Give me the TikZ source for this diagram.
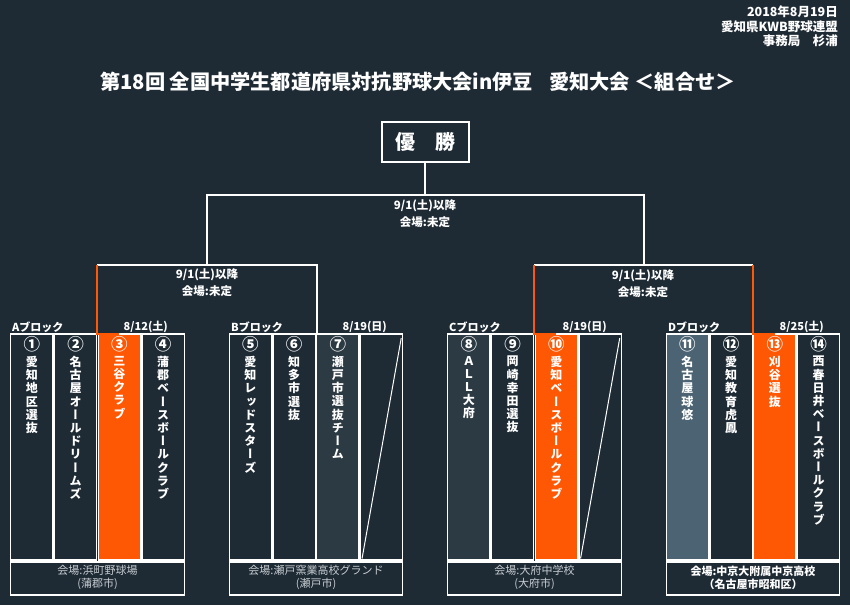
\documentclass[tikz,border=0pt]{standalone}
\usepackage{fontspec}
\setmainfont{Noto Sans CJK JP}
\newfontfamily\jpv[RawFeature=+vert]{Noto Sans CJK JP}
\usetikzlibrary{calc}
\definecolor{bg}{RGB}{30,43,53}
\definecolor{org}{RGB}{255,88,5}
\definecolor{lite}{RGB}{44,58,67}
\definecolor{steel}{RGB}{75,99,114}
\definecolor{vgray}{RGB}{200,205,210}
\makeatletter
\newcommand\vtext[1]{\vt@first#1\relax}
\def\vt@first#1{#1\vt@rest}
\def\vt@rest#1{\ifx#1\relax\else\\#1\expandafter\vt@rest\fi}
\makeatother
\begin{document}
\begin{tikzpicture}[x=1pt,y=-1pt,
  wline/.style={draw=white,line width=1.5pt},
  oline/.style={draw=org,line width=2.6pt},
  colbox/.style={draw=white,line width=1.3pt,minimum width=42.2pt,minimum height=226pt,anchor=north west,inner sep=0pt,outer sep=0pt},
  venuebox/.style={draw=white,line width=1.3pt,minimum width=173.4pt,minimum height=33pt,anchor=north west,inner sep=0pt,outer sep=0pt},
  hd/.style={text=white,font=\bfseries\fontsize{12.5}{14.5}\selectfont,align=right,anchor=north east,inner sep=0pt},
  ttl/.style={text=white,font=\bfseries\fontsize{20.2}{24}\selectfont,inner sep=0pt},
  winbox/.style={draw=white,line width=2pt,minimum width=87pt,minimum height=40pt,text=white,font=\bfseries\fontsize{20}{24}\selectfont,inner sep=0pt},
  bt/.style={text=white,font=\bfseries\fontsize{11.5}{17}\selectfont,align=center,inner sep=0pt},
  lbl/.style={text=white,font=\bfseries\fontsize{11}{13}\selectfont,inner sep=0pt},
  num/.style={text=white,font=\bfseries\fontsize{16.5}{16.5}\selectfont,inner sep=0pt},
  vt/.style={text=white,font=\jpv\bfseries\fontsize{12}{13.2}\selectfont,align=center,anchor=north,inner sep=0pt},
  vtx/.style={text=vgray,font=\fontsize{11}{13}\selectfont,align=center,inner sep=0pt},
  vtxb/.style={text=white,font=\bfseries\fontsize{11}{13}\selectfont,align=center,inner sep=0pt},
  diag/.style={draw=white,line width=1pt}]
\fill[bg] (0,0) rectangle (850,605);
\useasboundingbox (0,0) rectangle (850,605);

% header and title
\node[hd] (hdr) at (838,6) {2018年8月19日\\愛知県KWB野球連盟\\事務局　杉浦};
\node[ttl] (title) at (418,82) {第18回 全国中学生都道府県対抗野球大会in伊豆\hspace{0.8em}愛知大会 ＜組合せ＞};

% champion box
\node[winbox] (win) at (425,142) {優　勝};

% bracket coordinates
\coordinate (fL) at (207,195);
\coordinate (fR) at (644,195);
\coordinate (sL) at (207,265);
\coordinate (sR) at (644,265);
\coordinate (aL) at (97,265);
\coordinate (aR) at (317,265);
\coordinate (cL) at (534,265);
\coordinate (cR) at (753,265);

% columns block A
\node[colbox,fill=bg]  (A1) at (10.8,334) {};
\node[colbox,fill=bg]  (A2) at (54.55,334) {};
\node[colbox,fill=org] (A3) at (98.3,334) {};
\node[colbox,fill=bg]  (A4) at (142.05,334) {};
% block B
\node[colbox,fill=bg]   (B1) at (229.3,334) {};
\node[colbox,fill=bg]   (B2) at (273.05,334) {};
\node[colbox,fill=lite] (B3) at (316.8,334) {};
\node[colbox,fill=bg]   (B4) at (360.55,334) {};
% block C
\node[colbox,fill=lite] (C1) at (447.8,334) {};
\node[colbox,fill=bg]   (C2) at (491.55,334) {};
\node[colbox,fill=org]  (C3) at (535.3,334) {};
\node[colbox,fill=bg]   (C4) at (579.05,334) {};
% block D
\node[colbox,fill=steel] (D1) at (666.3,334) {};
\node[colbox,fill=bg]    (D2) at (710.05,334) {};
\node[colbox,fill=org]   (D3) at (753.8,334) {};
\node[colbox,fill=bg]    (D4) at (797.55,334) {};

% venue boxes
\node[venuebox] (Av) at (10.8,562) {};
\node[venuebox] (Bv) at (229.3,562) {};
\node[venuebox] (Cv) at (447.8,562) {};
\node[venuebox] (Dv) at (666.3,562) {};

% bye diagonals
\draw[diag] ([shift={(1.5pt,1.5pt)}]B4.south west) -- ([shift={(-1.5pt,-4pt)}]B4.north east);
\draw[diag] ([shift={(1.5pt,1.5pt)}]C4.south west) -- ([shift={(-1.5pt,-4pt)}]C4.north east);

% white bracket lines
\draw[wline] (win.south) -- (win.south |- fL);
\draw[wline] (sL) -- (fL) -- (fR) -- (sR);
\draw[wline] (aL) -- (aR) -- (aR |- B3.north);
\draw[wline] (cL) -- (cR);
% orange winning paths
\draw[oline] (aL) -- (aL |- A3.north) -- (A3.north);
\draw[oline] (cL) -- (cL |- C3.north) -- (C3.north);
\draw[oline] (cR) -- (cR |- D3.north) -- (D3.north);

% bracket texts
\node[bt] (t0) at (425,213.5) {9/1(土)以降\\会場:未定};
\node[bt] (t1) at (207,282.5) {9/1(土)以降\\会場:未定};
\node[bt] (t2) at (643,283.5) {9/1(土)以降\\会場:未定};

% block labels
\node[lbl,anchor=west] (Al) at (12,327) {Aブロック};
\node[lbl,anchor=east] (Ad) at (168,327) {8/12(土)};
\node[lbl,anchor=west] (Bl) at (231,327) {Bブロック};
\node[lbl,anchor=east] (Bd) at (387,327) {8/19(日)};
\node[lbl,anchor=west] (Cl) at (449,327) {Cブロック};
\node[lbl,anchor=east] (Cd) at (607,327) {8/19(日)};
\node[lbl,anchor=west] (Dl) at (668,327) {Dブロック};
\node[lbl,anchor=east] (Dd) at (824,327) {8/25(土)};

% numbers
\node[num] (nA1) at ([yshift=-10pt]A1.north) {①};
\node[num] (nA2) at ([yshift=-10pt]A2.north) {②};
\node[num] (nA3) at ([yshift=-10pt]A3.north) {③};
\node[num] (nA4) at ([yshift=-10pt]A4.north) {④};
\node[num] (nB1) at ([yshift=-10pt]B1.north) {⑤};
\node[num] (nB2) at ([yshift=-10pt]B2.north) {⑥};
\node[num] (nB3) at ([yshift=-10pt]B3.north) {⑦};
\node[num] (nC1) at ([yshift=-10pt]C1.north) {⑧};
\node[num] (nC2) at ([yshift=-10pt]C2.north) {⑨};
\node[num] (nC3) at ([yshift=-10pt]C3.north) {⑩};
\node[num] (nD1) at ([yshift=-10pt]D1.north) {⑪};
\node[num] (nD2) at ([yshift=-10pt]D2.north) {⑫};
\node[num] (nD3) at ([yshift=-10pt]D3.north) {⑬};
\node[num] (nD4) at ([yshift=-10pt]D4.north) {⑭};

% team names (vertical)
\node[vt] (tA1) at ([yshift=-22pt]A1.north) {\vtext{愛知地区選抜}};
\node[vt] (tA2) at ([yshift=-22pt]A2.north) {\vtext{名古屋オールドリームズ}};
\node[vt] (tA3) at ([yshift=-22pt]A3.north) {\vtext{三谷クラブ}};
\node[vt] (tA4) at ([yshift=-22pt]A4.north) {\vtext{蒲郡ベースボールクラブ}};
\node[vt] (tB1) at ([yshift=-22pt]B1.north) {\vtext{愛知レッドスターズ}};
\node[vt] (tB2) at ([yshift=-22pt]B2.north) {\vtext{知多市選抜}};
\node[vt] (tB3) at ([yshift=-22pt]B3.north) {\vtext{瀬戸市選抜チーム}};
\node[vt] (tC1) at ([yshift=-22pt]C1.north) {\vtext{ＡＬＬ大府}};
\node[vt] (tC2) at ([yshift=-22pt]C2.north) {\vtext{岡崎幸田選抜}};
\node[vt] (tC3) at ([yshift=-22pt]C3.north) {\vtext{愛知ベースボールクラブ}};
\node[vt] (tD1) at ([yshift=-22pt]D1.north) {\vtext{名古屋球悠}};
\node[vt] (tD2) at ([yshift=-22pt]D2.north) {\vtext{愛知教育虎鳳}};
\node[vt] (tD3) at ([yshift=-22pt]D3.north) {\vtext{刈谷選抜}};
\node[vt] (tD4) at ([yshift=-22pt]D4.north) {\vtext{西春日井ベースボールクラブ}};

% venues
\node[vtx] (vA) at ([yshift=1pt]Av.center) {会場:浜町野球場\\(蒲郡市)};
\node[vtx] (vB) at ([yshift=1pt]Bv.center) {会場:瀬戸窯業高校グランド\\(瀬戸市)};
\node[vtx] (vC) at ([yshift=1pt]Cv.center) {会場:大府中学校\\(大府市)};
\node[vtxb] (vD) at ([yshift=1pt]Dv.center) {会場:中京大附属中京高校\\（名古屋市昭和区）};
\end{tikzpicture}
\end{document}
